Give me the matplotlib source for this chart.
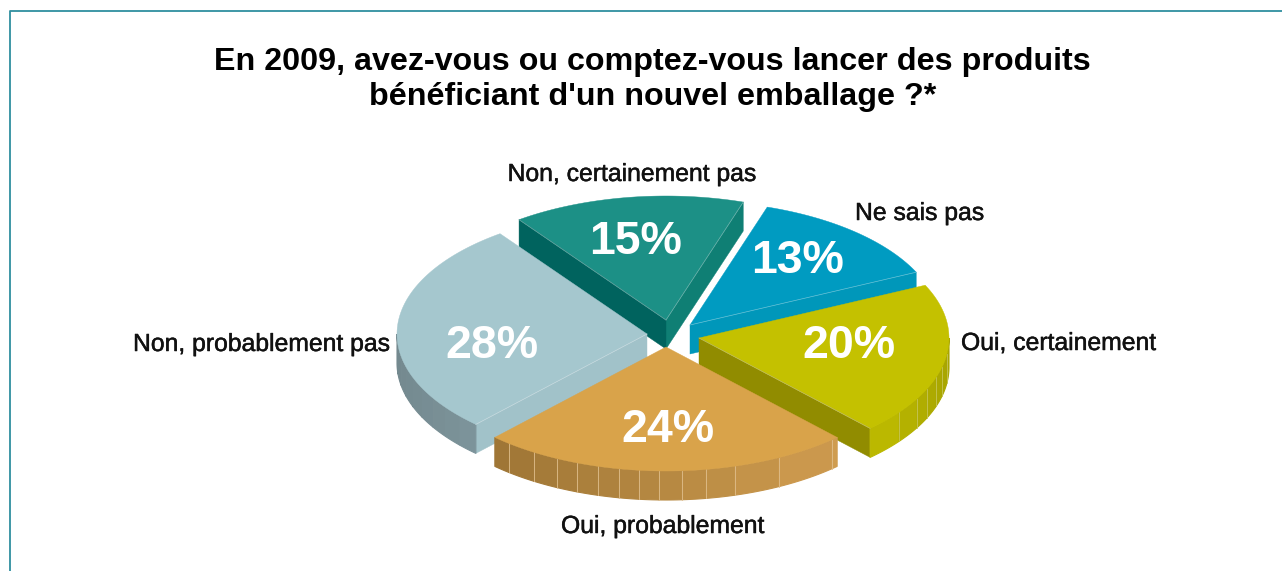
# 3D style exploded pie, drawn by hand on a pixel sized axes
import numpy as np
import matplotlib
matplotlib.use("Agg")
import matplotlib.pyplot as plt
from matplotlib.patches import Polygon
import matplotlib.patheffects as pe

plt.rcParams['font.family'] = ['Liberation Sans', 'DejaVu Sans']

# DATA
categories = ["Non, probablement pas", "Oui, probablement", "Oui, certainement",
              "Ne sais pas", "Non, certainement pas"]
values = [28, 24, 20, 13, 15]
title_lines = ["En 2009, avez-vous ou comptez-vous lancer des produits",
               "bénéficiant d'un nouvel emballage ?*"]

# LAYOUT: pixels of the 1282x571 picture
start_angle = 126
rx, ry, depth = 250, 124, 29
apex = [(647, 334), (666, 347), (699, 338), (690, 325), (666, 320)]
top_col = ['#a5c7ce', '#d9a34a', '#c4c100', '#009bc1', '#1c9086']
# colour of the flat cut face on the first and last radius of each wedge
cut_start = [None, None, '#918c00', '#0097ba', '#0f7f74']
cut_end = ['#a1c2c9', None, None, None, '#00635e']
side_left = ['#74898f', '#9e7535', '#c0bd00', None, None]
side_right = ['#7d949b', '#cf9c4f', '#a8a500', None, None]
# pixel x of the thin ribs on the outer wall
ribs = [[],
        [509, 534, 557, 577, 598, 619, 639, 659, 682, 706, 735, 779, 832],
        [899, 917, 927, 936, 942, 947],
        [], []]
label_pos = [(390, 344, 'right'), (662.5, 526, 'center'), (961, 343, 'left'),
             (855, 213, 'left'), (632, 174, 'center')]
pct_pos = [(492, 346), (668, 430), (849, 346), (798, 261), (636, 242)]
draw_order = [4, 3, 0, 2, 1]

fig = plt.figure(figsize=(12.82, 5.71), dpi=100)
ax = fig.add_axes([0, 0, 1, 1])
ax.set_xlim(0, 1282)
ax.set_ylim(571, 0)
ax.axis('off')

# wedge angles come from the values, going anticlockwise
fracs = np.array(values) / sum(values) * 360
starts = start_angle + np.concatenate(([0], np.cumsum(fracs)[:-1]))
ends = starts + fracs


def arc(cx, cy, a0, a1, n=80):
    t = np.radians(np.linspace(a0, a1, n))
    return np.column_stack((cx + rx * np.cos(t), cy - ry * np.sin(t)))


def mix(c0, c1, f):
    a = np.array(matplotlib.colors.to_rgb(c0))
    b = np.array(matplotlib.colors.to_rgb(c1))
    return tuple(a + (b - a) * f)


def wall(i, a0, a1, z):
    # outer wall, only the part facing us (180 to 360 degrees)
    cx, cy = apex[i]
    lo = max(a0, 180)
    hi = min(a1, 360)
    xl = cx + rx * np.cos(np.radians(lo))
    xr = cx + rx * np.cos(np.radians(hi))
    if ribs[i]:
        cuts = sorted(360 - np.degrees(np.arccos((x - cx) / rx)) for x in ribs[i])
        cuts = [lo] + [c for c in cuts if lo < c < hi] + [hi]
    else:
        cuts = list(np.linspace(lo, hi, 10))
    for c0, c1 in zip(cuts[:-1], cuts[1:]):
        pts = arc(cx, cy, c0, c1, 12)
        poly = np.vstack((pts, pts[::-1] + [0, depth]))
        col = mix(side_left[i], side_right[i], (pts[:, 0].mean() - xl) / (xr - xl))
        ax.add_patch(Polygon(poly, closed=True, fc=col, ec=col, lw=0.8, zorder=z))
    if ribs[i]:
        for c in cuts[1:-1]:
            p = arc(cx, cy, c, c, 1)[0]
            ax.plot([p[0], p[0]], [p[1], p[1] + depth], lw=0.6, zorder=z + 0.1,
                    color=mix(side_right[i], '#ffffff', 0.35))


def cut_face(cx, cy, angle, col, z):
    # flat face along one radius of the wedge
    p = arc(cx, cy, angle, angle, 1)[0]
    poly = [(cx, cy), tuple(p), (p[0], p[1] + depth), (cx, cy + depth)]
    ax.add_patch(Polygon(poly, closed=True, fc=col, ec=col, lw=0.3, zorder=z))
    ax.plot([cx, p[0]], [cy, p[1]], color=mix(col, '#ffffff', 0.4), lw=0.5, zorder=z + 0.4)


for order, i in enumerate(draw_order):
    z = 2 + order
    cx, cy = apex[i]
    a0, a1 = starts[i], ends[i]
    if cut_start[i]:
        cut_face(cx, cy, a0, cut_start[i], z)
    if cut_end[i]:
        cut_face(cx, cy, a1, cut_end[i], z)
    if side_left[i]:
        wall(i, a0, a1, z)
    poly = np.vstack(([(cx, cy)], arc(cx, cy, a0, a1)))
    ax.add_patch(Polygon(poly, closed=True, fc=top_col[i], ec=top_col[i], lw=0.3, zorder=z + 0.2))

# labels
for name, (x, y, ha) in zip(categories, label_pos):
    t = ax.text(x, y, name, ha=ha, va='center', fontsize=17.8, color='#111111', zorder=10)
    t.set_path_effects([pe.withStroke(linewidth=0.35, foreground='#111111')])

for v, (x, y) in zip(values, pct_pos):
    ax.text(x, y, "%d%%" % v, ha='center', va='center', fontsize=33.5, fontweight='bold',
            color='white', zorder=10)

ax.text(652.5, 62, title_lines[0], ha='center', va='center', fontsize=23.2, fontweight='bold',
        color='black')
ax.text(652.5, 97, title_lines[1], ha='center', va='center', fontsize=23.2, fontweight='bold',
        color='black')

# frame, only top and left are there
ax.plot([9.5, 9.5, 1282], [571, 11, 11], color='#2f8f9f', lw=1.3, zorder=1)

fig.savefig('out.png', dpi=100)
